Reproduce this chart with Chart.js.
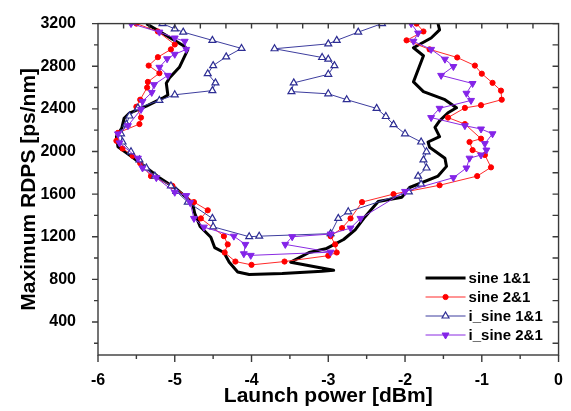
<!DOCTYPE html>
<html>
<head>
<meta charset="utf-8">
<script src="https://cdn.jsdelivr.net/npm/chart.js@4.4.0/dist/chart.umd.min.js"></script>
<style>
  html,body{margin:0;padding:0;background:#fff;}
  #wrap{width:571px;height:411px;}
</style>
</head>
<body>
<div id="wrap"><canvas id="rdps"></canvas></div>
<script>
// Axis ranges and tick labels
const X_MIN=-6, X_MAX=0, Y_MIN=90, Y_MAX=3200;
const X_TICKS=[-6,-5,-4,-3,-2,-1,0];
const Y_TICKS=[400,800,1200,1600,2000,2400,2800,3200];

// sine 1&1 (solid trace, no markers)
const sine11Power=[-5.37,-4.88,-4.83,-4.94,-5.07,-5.11,-5.09,-5.16,-5.37,-5.59,-5.66,-5.69,-5.76,-5.74,-5.59,-5.42,-5.20,-4.98,-4.77,-4.74,-4.67,-4.53,-4.48,-4.36,-4.29,-4.18,-4.03,-3.60,-3.08,-2.93,-3.49,-3.25,-3.02,-2.80,-2.65,-2.52,-2.35,-2.04,-1.94,-1.57,-1.46,-1.48,-1.68,-1.70,-1.55,-1.61,-1.55,-1.44,-1.33,-1.48,-1.76,-1.89,-1.76,-1.89,-1.66,-1.55,-1.57];
const sine11Rdps=[3200,2990,2955,2790,2690,2640,2530,2500,2425,2360,2310,2220,2140,2045,1967,1876,1754,1650,1520,1420,1296,1195,1098,1052,961,869,845,854,876,885,961,1052,1090,1174,1265,1388,1530,1571,1662,1769,1860,1937,2040,2089,2140,2226,2287,2363,2410,2486,2562,2653,2898,2973,3065,3141,3200];

// sine 2&1
const sine21Power=[-5.50,-5.22,-5.00,-5.05,-5.22,-5.34,-5.20,-5.35,-5.36,-5.45,-5.50,-5.44,-5.46,-5.74,-5.76,-5.68,-5.55,-5.45,-5.31,-5.03,-4.75,-4.57,-4.66,-4.36,-4.31,-4.35,-4.21,-4.00,-3.57,-3.00,-2.89,-2.91,-2.97,-2.82,-2.71,-2.56,-2.15,-1.55,-1.06,-0.88,-0.96,-1.12,-1.16,-1.01,-1.22,-1.44,-1.22,-1.01,-0.74,-0.75,-0.86,-1.00,-1.09,-1.32,-1.68,-1.98,-1.76,-1.85];
const sine21Rdps=[3200,3126,3004,2958,2885,2806,2735,2653,2600,2486,2420,2318,2257,2175,2100,2028,1960,1890,1769,1677,1525,1448,1372,1205,1128,1052,967,936,967,1022,1052,1128,1205,1281,1372,1525,1600,1683,1769,1851,1967,2013,2089,2120,2257,2318,2409,2434,2486,2571,2644,2730,2806,2882,2958,3043,3126,3200];

// i_sine 1&1
const isine11Power=[-5.16,-5.00,-4.89,-4.51,-4.13,-4.33,-4.50,-4.57,-4.47,-4.51,-5.00,-5.20,-5.48,-5.59,-5.63,-5.70,-5.68,-5.57,-5.46,-5.37,-5.26,-5.05,-4.98,-4.83,-4.51,-4.50,-4.03,-3.90,-2.97,-2.87,-2.74,-1.95,-1.79,-1.83,-1.72,-1.76,-1.72,-1.79,-2.00,-2.15,-2.25,-2.37,-2.76,-3.00,-3.48,-3.45,-3.00,-2.92,-3.00,-3.08,-3.70,-3.00,-2.89,-2.61,-2.30];
const isine11Rdps=[3200,3150,3120,3043,2967,2888,2806,2730,2644,2571,2532,2479,2409,2333,2257,2166,2089,1997,1921,1845,1769,1677,1625,1525,1372,1293,1200,1205,1229,1372,1434,1620,1693,1769,1845,1921,1997,2089,2166,2252,2328,2404,2486,2541,2562,2644,2724,2806,2866,2882,2964,3010,3043,3120,3200];

// i_sine 2&1
const isine21Power=[-5.57,-5.20,-5.00,-4.87,-4.85,-5.00,-5.10,-5.20,-5.09,-5.27,-5.30,-5.42,-5.44,-5.61,-5.74,-5.72,-5.48,-5.42,-5.24,-5.00,-4.85,-4.80,-4.75,-4.62,-4.23,-4.08,-4.10,-4.01,-2.97,-3.56,-3.47,-2.97,-2.71,-2.58,-2.00,-1.37,-1.20,-1.16,-1.01,-0.94,-0.96,-0.86,-1.01,-1.22,-1.66,-1.55,-1.14,-1.20,-1.12,-1.53,-1.37,-1.48,-1.66,-1.89,-1.83,-1.92];
const isine21Rdps=[3200,3120,3065,3034,2958,2912,2870,2790,2714,2627,2554,2470,2394,2242,2165,2080,1937,1845,1754,1617,1586,1520,1372,1290,1205,1128,1040,1025,1055,1128,1200,1225,1281,1372,1625,1754,1845,1937,1967,2013,2074,2166,2211,2242,2318,2405,2479,2546,2638,2714,2797,2866,2958,3034,3111,3200];

const pts=(xs,ys)=>xs.map((v,i)=>({x:v,y:ys[i]}));
const FONT='"Liberation Sans", Arial, Helvetica, sans-serif';

// box around the plot with Origin-style ticks (out on left/bottom, in on top/right)
const frameTicks={
  id:'frameTicks',
  afterDraw(chart){
    const {ctx,chartArea:a,scales:{x,y}}=chart;
    ctx.save();
    ctx.strokeStyle='#3a3a3a';
    ctx.lineWidth=1.4;
    ctx.strokeRect(a.left,a.top,a.right-a.left,a.bottom-a.top);
    ctx.beginPath();
    for(let i=0;i<=12;i++){
      const px=x.getPixelForValue(X_MIN+i*0.5), len=i%2?4:7;
      ctx.moveTo(px,a.bottom); ctx.lineTo(px,a.bottom+len);
    }
    for(let i=1;i<18;i++){
      const px=x.getPixelForValue(X_MIN+i/3);
      ctx.moveTo(px,a.top); ctx.lineTo(px,a.top+5);
    }
    for(let v=200;v<=Y_MAX;v+=200){
      const py=y.getPixelForValue(v), len=v%400?4:6;
      ctx.moveTo(a.left,py); ctx.lineTo(a.left-len,py);
      ctx.moveTo(a.right,py); ctx.lineTo(a.right-6,py);
    }
    ctx.stroke();
    ctx.restore();
  }
};

// legend sitting inside the lower right corner of the plot
const insetLegend={
  id:'insetLegend',
  afterDatasetsDraw(chart){
    const {ctx,chartArea:a}=chart;
    const x0=a.right-133, y0=a.bottom-77, row=19;
    ctx.save();
    chart.data.datasets.forEach((ds,i)=>{
      const yy=y0+i*row;
      ctx.strokeStyle=ds.borderColor;
      ctx.lineWidth=ds.borderWidth;
      ctx.beginPath(); ctx.moveTo(x0,yy); ctx.lineTo(x0+40,yy); ctx.stroke();
      if(ds.pointRadius>0){
        ctx.fillStyle=ds.pointBackgroundColor;
        ctx.strokeStyle=ds.pointBorderColor;
        ctx.lineWidth=ds.pointBorderWidth;
        Chart.helpers.drawPoint(ctx,{pointStyle:ds.pointStyle,rotation:ds.pointRotation||0,radius:ds.pointRadius,borderWidth:ds.pointBorderWidth},x0+20,yy);
      }
      ctx.fillStyle='#000';
      ctx.font='bold 15px '+FONT;
      ctx.textBaseline='middle';
      ctx.textAlign='left';
      ctx.fillText(ds.label,x0+43,yy+1);
    });
    ctx.restore();
  }
};

new Chart(document.getElementById('rdps'),{
  type:'scatter',
  data:{datasets:[
    {label:'sine 1&1',data:pts(sine11Power,sine11Rdps),showLine:true,borderColor:'#000',borderWidth:3,
     pointRadius:0,tension:0,borderJoinStyle:'round',order:4},
    {label:'sine 2&1',data:pts(sine21Power,sine21Rdps),showLine:true,borderColor:'#ff2a2a',borderWidth:1,
     pointStyle:'circle',pointRadius:2.6,pointBackgroundColor:'#ff0000',pointBorderColor:'#ff0000',pointBorderWidth:1,order:3},
    {label:'i_sine 1&1',data:pts(isine11Power,isine11Rdps),showLine:true,borderColor:'#3d3d9e',borderWidth:1,
     pointStyle:'triangle',pointRadius:4,pointBackgroundColor:'#ffffff',pointBorderColor:'#2e2e94',pointBorderWidth:1.2,order:2},
    {label:'i_sine 2&1',data:pts(isine21Power,isine21Rdps),showLine:true,borderColor:'#8a2be2',borderWidth:1,
     pointStyle:'triangle',pointRotation:180,pointRadius:4,pointBackgroundColor:'#8424e8',pointBorderColor:'#8424e8',pointBorderWidth:1,order:1}
  ]},
  options:{
    responsive:true,maintainAspectRatio:false,animation:false,
    layout:{padding:{top:15,right:10,left:0,bottom:0}},
    plugins:{legend:{display:false},tooltip:{enabled:false}},
    scales:{
      x:{type:'linear',min:X_MIN,max:X_MAX,
        afterBuildTicks:s=>{s.ticks=X_TICKS.map(v=>({value:v}));},
        afterFit:s=>{s.height=56;},
        ticks:{color:'#000',padding:8,maxRotation:0,callback:v=>String(v),font:{family:FONT,size:16,weight:'bold'}},
        grid:{display:false},border:{display:false},
        title:{display:true,text:'Launch power [dBm]',color:'#000',padding:{top:0,bottom:2},
          font:{family:FONT,size:21,weight:'bold'}}},
      y:{type:'linear',min:Y_MIN,max:Y_MAX,
        afterBuildTicks:s=>{s.ticks=Y_TICKS.map(v=>({value:v}));},
        afterFit:s=>{s.width=98;},
        ticks:{color:'#000',padding:14,callback:v=>String(v),font:{family:FONT,size:16,weight:'bold'}},
        grid:{display:false},border:{display:false},
        title:{display:true,text:'Maximum RDPS [ps/nm]',color:'#000',padding:{top:17,bottom:0},
          font:{family:FONT,size:21,weight:'bold'}}}
    }
  },
  plugins:[frameTicks,insetLegend]
});
</script>
</body>
</html>
